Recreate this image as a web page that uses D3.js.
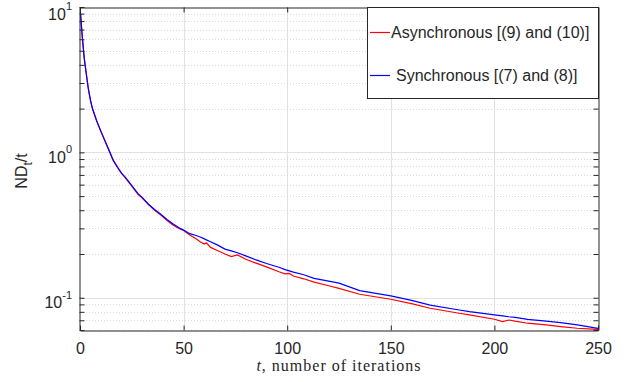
<!DOCTYPE html>
<html>
<head>
<meta charset="utf-8">
<script src="https://cdn.jsdelivr.net/npm/d3@7"></script>
<style>
  body { margin: 0; background: #fff; }
  text { font-family: Arial, "Liberation Sans", sans-serif; fill: #262626; }
</style>
</head>
<body>
<svg id="chart" width="628" height="382"></svg>
<script>
const tIter = [0, 1, 2, 3, 4, 5, 6, 8, 10, 12, 14, 16, 18, 20, 22, 25, 28, 30, 33, 36, 39, 42, 45, 48, 50,
  53, 56, 58, 60, 61, 63, 66, 70, 73, 76, 80, 85, 90, 96, 99, 101, 103, 108, 113, 120, 125, 135, 150,
  160, 169, 183, 188, 200, 204, 207, 210, 216, 225, 232, 240, 250];

// ND_t / t, synchronous [(7) and (8)]
const syncND = [10.0, 6.5, 4.5, 3.5, 2.75, 2.3, 2.0, 1.65, 1.40, 1.20, 1.03, 0.88, 0.79, 0.72, 0.67, 0.59,
  0.52, 0.49, 0.44, 0.405, 0.375, 0.345, 0.322, 0.302, 0.292, 0.276, 0.268, 0.262, 0.254, 0.25, 0.243,
  0.232, 0.216, 0.21, 0.204, 0.194, 0.182, 0.172, 0.162, 0.156, 0.153, 0.15, 0.144, 0.136, 0.13, 0.126,
  0.112, 0.103, 0.096, 0.089, 0.0824, 0.0802, 0.0762, 0.075, 0.074, 0.0732, 0.0711, 0.069, 0.0674,
  0.065, 0.0615];

// ND_t / t, asynchronous [(9) and (10)]
const asyncND = [10.0, 6.5, 4.5, 3.5, 2.76, 2.31, 2.01, 1.66, 1.41, 1.21, 1.04, 0.89, 0.80, 0.72, 0.665,
  0.585, 0.515, 0.485, 0.44, 0.40, 0.37, 0.34, 0.315, 0.298, 0.29, 0.27, 0.255, 0.243, 0.234, 0.239,
  0.222, 0.212, 0.2, 0.192, 0.197, 0.184, 0.173, 0.163, 0.151, 0.146, 0.147, 0.141, 0.135, 0.128, 0.121,
  0.116, 0.1057, 0.0977, 0.091, 0.0847, 0.0782, 0.0762, 0.0711, 0.0685, 0.0703, 0.069, 0.0668, 0.065,
  0.0633, 0.0617, 0.0605];

const xTicks = [0, 50, 100, 150, 200, 250];
const yDecades = [0.1, 1, 10];
const yExponents = ['-1', '0', '1'];
const legendLabels = ['Asynchronous [(9) and (10)]', 'Synchronous [(7) and (8)]'];

const plotLeft = 80, plotRight = 598, plotTop = 7, plotBottom = 330;
const svg = d3.select('#chart');

const x = d3.scaleLinear().domain([0, 250]).range([plotLeft, plotRight]);
const y = d3.scaleLog().domain([0.06, 10]).range([plotBottom, plotTop]);

const allY = y.ticks();
const minorY = allY.filter((v) => !yDecades.some((d) => Math.abs(d - v) < 1e-9));

// grid
const grid = svg.append('g');
grid.selectAll('.gx')
  .data(xTicks.slice(1, -1))
  .enter().append('line')
  .attr('x1', (d) => Math.round(x(d)) + 0.5).attr('x2', (d) => Math.round(x(d)) + 0.5)
  .attr('y1', plotTop).attr('y2', plotBottom)
  .style('stroke', '#e1e1e1');
grid.selectAll('.gym')
  .data(minorY)
  .enter().append('line')
  .attr('x1', plotLeft).attr('x2', plotRight)
  .attr('y1', (d) => Math.round(y(d)) + 0.5).attr('y2', (d) => Math.round(y(d)) + 0.5)
  .style('stroke', '#d9d9d9')
  .style('stroke-dasharray', '1,2');
grid.selectAll('.gy')
  .data(yDecades.slice(0, -1))
  .enter().append('line')
  .attr('x1', plotLeft).attr('x2', plotRight)
  .attr('y1', (d) => Math.round(y(d)) + 0.5).attr('y2', (d) => Math.round(y(d)) + 0.5)
  .style('stroke', '#e1e1e1');

// curves
svg.append('clipPath').attr('id', 'plot-clip')
  .append('rect').attr('x', plotLeft).attr('y', plotTop)
  .attr('width', plotRight - plotLeft).attr('height', plotBottom - plotTop);

const line = d3.line()
  .x((d) => x(d[0]))
  .y((d) => y(d[1]));

const curves = svg.append('g').attr('clip-path', 'url(#plot-clip)');
curves.append('path')
  .datum(tIter.map((t, i) => [t, asyncND[i]]))
  .attr('d', line)
  .style('fill', 'none').style('stroke', '#ff0000').style('stroke-width', 1.2);
curves.append('path')
  .datum(tIter.map((t, i) => [t, syncND[i]]))
  .attr('d', line)
  .style('fill', 'none').style('stroke', '#0000ff').style('stroke-width', 1.2);

// axes (ticks inside, box all round)
const styleAxis = (g) => {
  g.selectAll('.domain').style('stroke', '#262626');
  g.selectAll('.tick line').style('stroke', '#262626');
};

svg.append('g')
  .attr('transform', `translate(0, ${plotBottom + 0.5})`)
  .call(d3.axisBottom(x).tickValues(xTicks).tickSizeInner(-5).tickSizeOuter(0).tickPadding(12))
  .call(styleAxis)
  .call((g) => g.selectAll('text').style('font-size', '16px').style('fill', '#262626')
    .style('font-family', 'Arial, "Liberation Sans", sans-serif'));

svg.append('g')
  .attr('transform', `translate(0, ${plotTop + 0.5})`)
  .call(d3.axisTop(x).tickValues(xTicks).tickSizeInner(-5).tickSizeOuter(0).tickFormat(''))
  .call(styleAxis);

svg.append('g')
  .attr('transform', `translate(${plotLeft - 0.5}, 0)`)
  .call(d3.axisLeft(y).tickValues(allY).tickSizeInner(-5).tickSizeOuter(0).tickFormat(''))
  .call(styleAxis);

svg.append('g')
  .attr('transform', `translate(${plotRight + 0.5}, 0)`)
  .call(d3.axisRight(y).tickValues(allY).tickSizeInner(-5).tickSizeOuter(0).tickFormat(''))
  .call(styleAxis);

// y tick labels 10^k (the top one sits a little lower, as in the figure)
const yLab = svg.append('g').selectAll('text')
  .data(yDecades)
  .enter().append('text')
  .attr('x', 72)
  .attr('y', (d) => y(d) + (d === 10 ? 12.5 : 10.5))
  .attr('text-anchor', 'end')
  .style('font-size', '16px');
yLab.append('tspan').text('10');
yLab.append('tspan')
  .attr('dy', -9.5)
  .style('font-size', '11px')
  .text((d, i) => yExponents[i]);

// axis labels
const yTitle = svg.append('text')
  .attr('transform', 'translate(27, 171) rotate(-90)')
  .attr('text-anchor', 'middle')
  .style('font-size', '16px');
yTitle.append('tspan').text('ND');
yTitle.append('tspan').attr('dy', 5).style('font-size', '12px').text('t');
yTitle.append('tspan').attr('dy', -5).text('/t');

const xTitle = svg.append('text')
  .attr('x', (plotLeft + plotRight) / 2)
  .attr('y', 371)
  .attr('text-anchor', 'middle')
  .style('font-family', '"Liberation Serif", "Times New Roman", serif')
  .style('font-size', '16px')
  .style('letter-spacing', '1px');
xTitle.append('tspan').style('font-style', 'italic').text('t');
xTitle.append('tspan').text(', number of iterations');

// legend
const legend = svg.append('g');
legend.append('rect')
  .attr('x', 367.5).attr('y', plotTop + 0.5)
  .attr('width', plotRight - 367).attr('height', 91)
  .style('fill', '#fff').style('stroke', '#262626');

const legendColors = ['#ff0000', '#0000ff'];
const legendRows = [32, 75];
const legendTextX = [391, 396];
legendLabels.forEach((label, i) => {
  legend.append('line')
    .attr('x1', 370).attr('x2', 390)
    .attr('y1', legendRows[i] + 0.5).attr('y2', legendRows[i] + 0.5)
    .style('stroke', legendColors[i]).style('stroke-width', 1.2);
  legend.append('text')
    .attr('x', legendTextX[i])
    .attr('y', legendRows[i] + 6)
    .style('font-size', '16px')
    .text(label);
});
</script>
</body>
</html>
